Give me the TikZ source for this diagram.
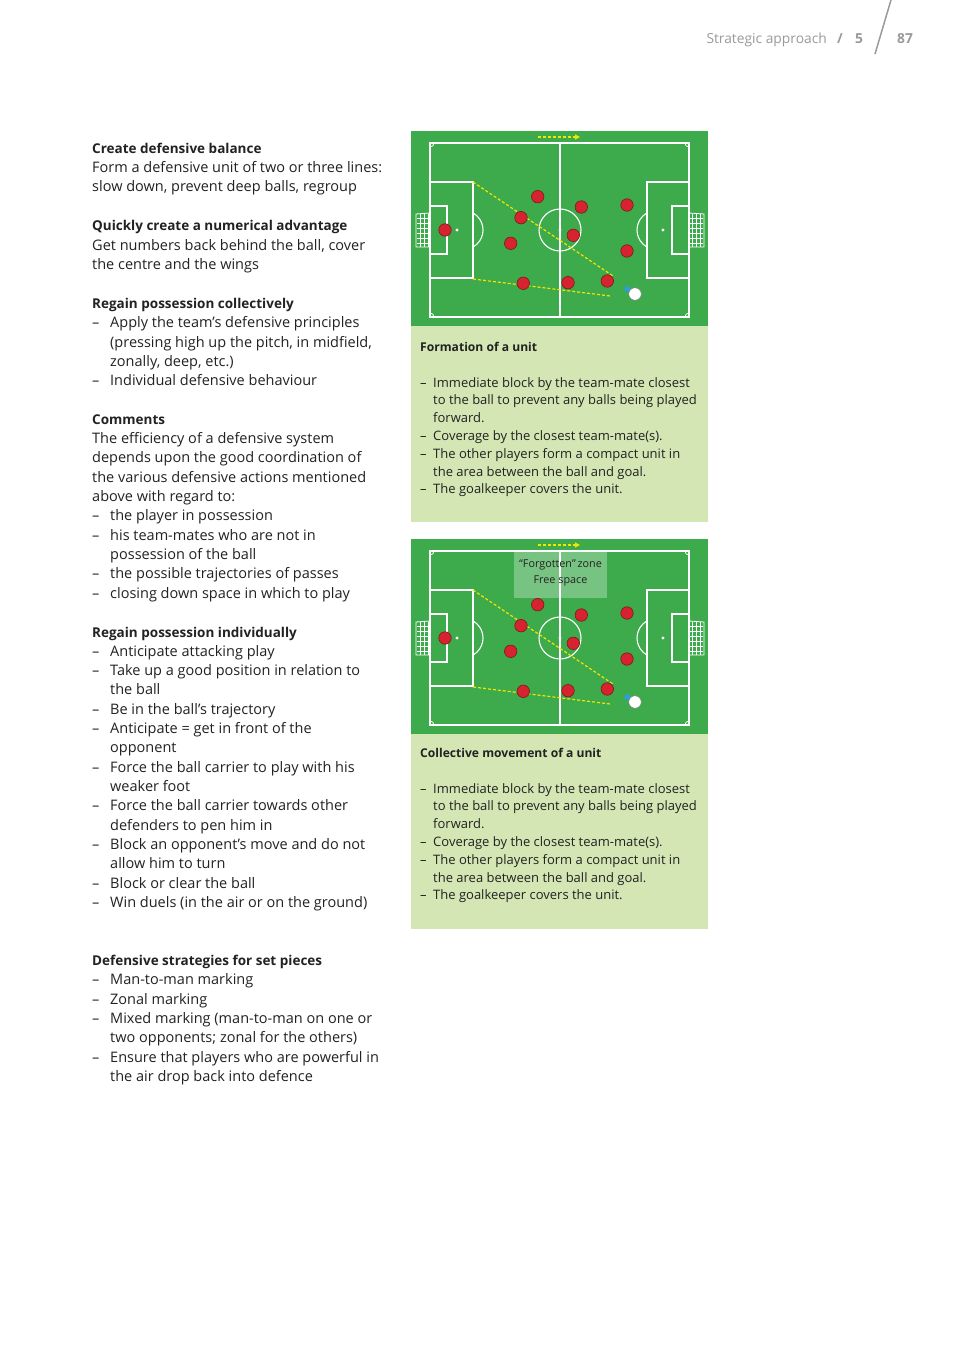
\documentclass[tikz,border=0pt]{standalone}
\usepackage{fontspec}
\setmainfont{Open Sans}
\usetikzlibrary{arrows.meta}
\definecolor{txtc}{HTML}{222222}
\definecolor{pitchgreen}{HTML}{3DAA4C}
\definecolor{panelgreen}{HTML}{D3E6B3}
\definecolor{pred}{HTML}{D7232F}
\definecolor{predb}{HTML}{7A1A1A}
\definecolor{yel}{HTML}{F2E500}
\definecolor{bluep}{HTML}{2A9FD8}
\definecolor{hgray}{HTML}{9A9A9A}
\tikzset{
  txt/.style={anchor=base west, inner sep=0pt, font=\fontsize{14.5}{16}\selectfont, text=txtc},
  hd/.style={txt, font=\fontsize{13.5}{16}\selectfont\bfseries},
  ptxt/.style={anchor=base west, inner sep=0pt, font=\fontsize{13}{15}\selectfont, text=txtc},
  phd/.style={ptxt, font=\fontsize{12.1}{15}\selectfont\bfseries},
  pline/.style={draw=white, line width=1.1pt},
  player/.style={circle, fill=pred, draw=predb, line width=0.6pt, minimum size=12.5pt, inner sep=0pt},
  ballst/.style={circle, fill=white, draw=gray, line width=0.5pt, minimum size=12.5pt, inner sep=0pt},
  blue/.style={circle, fill=bluep, minimum size=6pt, inner sep=0pt},
  yline/.style={draw=yel, line width=1.2pt, dash pattern=on 3pt off 2pt},
}
\newcommand\LItem[3]{\node[txt] (#1d) at (92,#2+1.5) {–}; \node[txt] (#1) at (110,#2+1.5) {#3};}
\newcommand\LCont[3]{\node[txt] (#1) at (110,#2+1.5) {#3};}
\newcommand\LPlain[3]{\node[txt] (#1) at (92,#2+1.5) {#3};}
\newcommand\LHead[3]{\node[hd] (#1) at (92,#2+1.5) {#3};}
\newcommand\PItem[3]{\node[ptxt] (#1d) at (420,#2+0.7) {–}; \node[ptxt] (#1) at (433,#2+0.7) {#3};}
\newcommand\PCont[3]{\node[ptxt] (#1) at (433,#2+0.7) {#3};}
\newcommand\Pitch[1]{%
  \fill[pitchgreen] (411,131) rectangle (708,326);
  \draw[pline] (430,143) rectangle (689,317);
  \begin{scope}
    \clip (430,143) rectangle (689,317);
    \foreach \cx/\cy in {430/143,689/143,430/317,689/317} \draw[pline, line width=0.8pt] (\cx,\cy) circle (4);
  \end{scope}
  \draw[pline] (560,143) -- (560,317);
  \draw[pline] (560,230) circle (21);
  \fill[white] (560,230) circle (1.6);
  \draw[pline] (430,182) rectangle (473,278);
  \draw[pline] (430,206) rectangle (447,254);
  \fill[white] (457,230) circle (1.6);
  \draw[pline] (647,182) rectangle (689,278);
  \draw[pline] (672,206) rectangle (689,254);
  \fill[white] (663,230) circle (1.6);
  \begin{scope}
    \clip (473,143) rectangle (500,317);
    \draw[pline] (463.5,230) circle (19.5);
  \end{scope}
  \begin{scope}
    \clip (620,143) rectangle (647,317);
    \draw[pline] (656.5,230) circle (19.5);
  \end{scope}
  % goals
  \draw[white, line width=0.8pt] (430,213) -- (416,214) -- (416,247) -- (430,247);
  \draw[white, line width=0.8pt] (689,213) -- (704,214) -- (704,247) -- (689,247);
  \foreach \gy in {218,223,...,243} {\draw[white, line width=0.3pt] (417,\gy) -- (429,\gy); \draw[white, line width=0.3pt] (690,\gy) -- (703,\gy);}
  \foreach \gx in {420,424,428} \draw[white, line width=0.3pt] (\gx,214) -- (\gx,247);
  \foreach \gx in {692,696,700} \draw[white, line width=0.3pt] (\gx,214) -- (\gx,247);
  % yellow lines
  \coordinate (#1ya) at (473,182);
  \coordinate (#1yb) at (613,276);
  \coordinate (#1yc) at (473,279);
  \coordinate (#1yd) at (610,296);
  \coordinate (#1ar1) at (538,137);
  \coordinate (#1ar2) at (580,137);
  \draw[yline] (#1ya) -- (#1yb);
  \draw[yline] (#1yc) -- (#1yd);
  \draw[yline, -{Triangle[length=5pt,width=5pt]}] (#1ar1) -- (#1ar2);
  % players
  \node[player] (#1p1) at (445,230) {};
  \node[player] (#1p2) at (537.7,196.7) {};
  \node[player] (#1p3) at (521,217.7) {};
  \node[player] (#1p4) at (510.7,243.3) {};
  \node[player] (#1p5) at (581.3,207) {};
  \node[player] (#1p6) at (573.3,235.3) {};
  \node[player] (#1p7) at (627,205) {};
  \node[player] (#1p8) at (627,251) {};
  \node[player] (#1p9) at (523.3,283.3) {};
  \node[player] (#1p10) at (568,282.7) {};
  \node[player] (#1p11) at (607.3,281) {};
  \node[blue] (#1bl) at (627.3,289) {};
  \node[ballst] (#1ball) at (635,294) {};
}
\begin{document}
\begin{tikzpicture}[x=1pt,y=-1pt]
\useasboundingbox (0,0) rectangle (959,1356);
\fill[white] (0,0) rectangle (959,1356);
% header
\node[anchor=base east, inner sep=0pt, font=\fontsize{13.8}{15}\selectfont, text=hgray] (hsec) at (827,43.5) {Strategic approach};
\node[anchor=base west, inner sep=0pt, font=\fontsize{13.8}{15}\selectfont\bfseries, text=hgray] (hsl) at (837,43.5) {/};
\node[anchor=base west, inner sep=0pt, font=\fontsize{13.8}{15}\selectfont\bfseries, text=hgray] (hch) at (855,43.5) {5};
\node[anchor=base west, inner sep=0pt, font=\fontsize{13.8}{15}\selectfont\bfseries, text=hgray] (hpg) at (897,43.5) {87};
\coordinate (sl1) at (891,0);
\coordinate (sl2) at (875,54);
\draw[hgray, line width=1.5pt] (sl1) -- (sl2);

% left column
\LHead{a1}{152}{Create defensive balance}
\LPlain{a2}{171}{Form a defensive unit of two or three lines:}
\LPlain{a3}{190}{slow down, prevent deep balls, regroup}
\LHead{b1}{229}{Quickly create a numerical advantage}
\LPlain{b2}{249}{Get numbers back behind the ball, cover}
\LPlain{b3}{268}{the centre and the wings}
\LHead{c1}{307}{Regain possession collectively}
\LItem{c2}{326}{Apply the team’s defensive principles}
\LCont{c3}{346}{(pressing high up the pitch, in midfield,}
\LCont{c4}{365}{zonally, deep, etc.)}
\LItem{c5}{384}{Individual defensive behaviour}
\LHead{d1}{423}{Comments}
\LPlain{d2}{442}{The efficiency of a defensive system}
\LPlain{d3}{461}{depends upon the good coordination of}
\LPlain{d4}{481}{the various defensive actions mentioned}
\LPlain{d5}{500}{above with regard to:}
\LItem{d6}{519}{the player in possession}
\LItem{d7}{539}{his team-mates who are not in}
\LCont{d8}{558}{possession of the ball}
\LItem{d9}{577}{the possible trajectories of passes}
\LItem{d10}{597}{closing down space in which to play}
\LHead{e1}{636}{Regain possession individually}
\LItem{e2}{655}{Anticipate attacking play}
\LItem{e3}{674}{Take up a good position in relation to}
\LCont{e4}{693}{the ball}
\LItem{e5}{713}{Be in the ball’s trajectory}
\LItem{e6}{732}{Anticipate = get in front of the}
\LCont{e7}{751}{opponent}
\LItem{e8}{771}{Force the ball carrier to play with his}
\LCont{e9}{790}{weaker foot}
\LItem{e10}{809}{Force the ball carrier towards other}
\LCont{e11}{829}{defenders to pen him in}
\LItem{e12}{848}{Block an opponent’s move and do not}
\LCont{e13}{867}{allow him to turn}
\LItem{e14}{887}{Block or clear the ball}
\LItem{e15}{906}{Win duels (in the air or on the ground)}
\LHead{f1}{964}{Defensive strategies for set pieces}
\LItem{f2}{983}{Man-to-man marking}
\LItem{f3}{1003}{Zonal marking}
\LItem{f4}{1022}{Mixed marking (man-to-man on one or}
\LCont{f5}{1041}{two opponents; zonal for the others)}
\LItem{f6}{1061}{Ensure that players who are powerful in}
\LCont{f7}{1080}{the air drop back into defence}

% panel 1
\Pitch{A}
\fill[panelgreen] (411,326) rectangle (708,522);
\node[phd] (t1) at (420,351) {Formation of a unit};
\PItem{g1}{386.5}{Immediate block by the team-mate closest}
\PCont{g2}{404}{to the ball to prevent any balls being played}
\PCont{g3}{421.5}{forward.}
\PItem{g4}{439.5}{Coverage by the closest team-mate(s).}
\PItem{g5}{457.5}{The other players form a compact unit in}
\PCont{g6}{475.5}{the area between the ball and goal.}
\PItem{g7}{492.5}{The goalkeeper covers the unit.}

% panel 2
\begin{scope}[shift={(0,408)}]
\Pitch{B}
\fill[white, opacity=0.3] (514,143) rectangle (607,190);
\node[anchor=base, inner sep=0pt, font=\fontsize{10.8}{12}\selectfont, text=txtc] (fz1) at (560.5,159) {“Forgotten”\,zone};
\node[anchor=base, inner sep=0pt, font=\fontsize{10.8}{12}\selectfont, text=txtc] (fz2) at (560.5,175.5) {Free space};
\end{scope}
\fill[panelgreen] (411,734) rectangle (708,929);
\node[phd] (t2) at (420,757) {Collective movement of a unit};
\PItem{h1}{792.5}{Immediate block by the team-mate closest}
\PCont{h2}{810}{to the ball to prevent any balls being played}
\PCont{h3}{827.5}{forward.}
\PItem{h4}{845.5}{Coverage by the closest team-mate(s).}
\PItem{h5}{863.5}{The other players form a compact unit in}
\PCont{h6}{881.5}{the area between the ball and goal.}
\PItem{h7}{898.5}{The goalkeeper covers the unit.}
\end{tikzpicture}
\end{document}
